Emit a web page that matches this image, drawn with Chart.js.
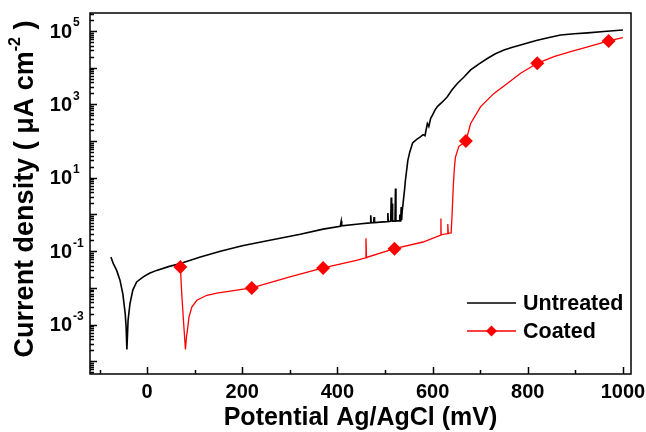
<!DOCTYPE html>
<html>
<head>
<meta charset="utf-8">
<script src="https://cdn.jsdelivr.net/npm/chart.js@4.4.1/dist/chart.umd.min.js"></script>
<style>
  html, body { margin: 0; padding: 0; background: #fff; }
  #wrap { width: 646px; height: 432px; }
</style>
</head>
<body>
<div id="wrap"><canvas id="polChart" width="646" height="432"></canvas></div>
<script>
// potential (mV) and current density (uA cm-2)
const untreatedX = [-76, -71, -64, -57, -51, -46, -44, -42.5, -41, -40, -36, -30, -22, -8, 5, 20, 45, 70, 112, 154, 200, 250, 322, 370,
  406, 408, 409, 450, 469, 470, 471, 476, 477, 478, 490, 505, 506, 507, 512, 513, 514, 515, 516, 521, 522, 523, 530, 531, 532, 533, 534, 535,
  536, 538, 541, 543, 548, 552, 558, 566, 575, 580, 584, 589, 592, 596, 600, 605, 610, 620, 631, 641, 652, 666, 680, 697, 715, 732, 750, 768,
  785, 803, 820, 845, 869, 898, 926, 960, 1000];
const untreatedY = [0.069, 0.046, 0.030, 0.0162, 0.0069, 0.002, 8.0e-4, 2.1e-4, 6.0e-4, 1.3e-3, 3.7e-3, 8.7e-3, 0.0145, 0.020, 0.025,
  0.030, 0.038, 0.046, 0.069, 0.10, 0.14, 0.19, 0.29, 0.40,
  0.48, 0.66, 0.49, 0.56, 0.59, 0.95, 0.59, 0.60, 0.85, 0.60, 0.62, 0.64, 1.1, 0.64, 0.65, 2.9, 0.66, 2.0, 0.66, 0.66, 5.1, 0.67, 0.67, 1.0,
  0.67, 0.68, 1.6, 0.70, 1.2, 2.0, 4.6, 8.7, 30, 50, 89, 110, 132, 150, 140, 302, 250, 420, 520, 700, 871, 1150, 1620, 2500, 3720, 5600,
  8710, 12600, 17800, 24000, 30200, 36000, 41700, 49000, 56200, 67000, 77600, 84000, 89100, 97000, 107000];

const coatedX = [70, 73, 77, 80.6, 83, 84.8, 88, 94, 104.6, 125.7, 146.7, 220, 300, 370, 440, 459, 460, 461, 462, 520, 580, 617, 617.5, 618,
  631, 632, 633, 634, 639, 641, 643.6, 646, 648, 655, 670, 680, 701, 729, 757, 785, 820, 855, 890, 926, 970, 1000];
const coatedY = [0.037, 0.0063, 0.001, 2.1e-4, 5.0e-4, 7.1e-4, 1.6e-3, 3.0e-3, 4.6e-3, 6.3e-3, 7.2e-3, 0.010, 0.020, 0.035, 0.056, 0.066,
  0.224, 0.067, 0.068, 0.117, 0.178, 0.275, 0.78, 0.28, 0.30, 0.55, 0.30, 0.31, 0.316, 1.0, 6.3, 20, 36, 71, 100, 302, 871, 2000, 3720,
  7080, 13200, 20000, 27500, 37200, 53700, 66100];
const coatedMarkers = [70, 220, 370, 520, 670, 820, 970];

const xTicks = [0, 200, 400, 600, 800, 1000];
const xMinorTicks = [-100, 100, 300, 500, 700, 900];
const yTickExps = [-3, -1, 1, 3, 5];

const toPoints = (xs, ys) => xs.map((v, i) => ({ x: v, y: ys[i] }));
const FONT = 'Arial, "Liberation Sans", sans-serif';

const decor = {
  id: "decor",
  afterDraw(chart) {
    const { ctx, chartArea: a, scales: { x, y } } = chart;
    ctx.save();
    ctx.strokeStyle = "#000";
    ctx.fillStyle = "#000";
    ctx.lineWidth = 1.5;
    ctx.strokeRect(a.left, a.top, a.right - a.left, a.bottom - a.top);

    // inward ticks
    ctx.beginPath();
    xTicks.concat(xMinorTicks).forEach(v => {
      const px = Math.round(x.getPixelForValue(v)) + 0.5;
      const len = xTicks.includes(v) ? 7 : 4;
      ctx.moveTo(px, a.bottom);
      ctx.lineTo(px, a.bottom - len);
    });
    for (let e = -5; e <= 5; e++) {
      for (let m = 1; m <= 9; m++) {
        const v = m * Math.pow(10, e);
        if (v < y.min || v > y.max) continue;
        const py = Math.round(y.getPixelForValue(v)) + 0.5;
        ctx.moveTo(a.left, py);
        ctx.lineTo(a.left + (m === 1 ? 7 : 4), py);
      }
    }
    ctx.stroke();

    // x tick labels
    ctx.font = "bold 20px " + FONT;
    ctx.textAlign = "center";
    ctx.textBaseline = "middle";
    xTicks.forEach(v => ctx.fillText(String(v), x.getPixelForValue(v), a.bottom + 18));

    // y tick labels 10^n
    yTickExps.forEach(e => {
      const py = y.getPixelForValue(Math.pow(10, e));
      ctx.font = "bold 20px " + FONT;
      ctx.textAlign = "right";
      ctx.textBaseline = "middle";
      ctx.fillText("10", 72, py + 1);
      ctx.font = "bold 12px " + FONT;
      ctx.textAlign = "left";
      ctx.fillText(e < 0 ? "-" + Math.abs(e) : String(e), 73, py - 8);
    });

    // axis titles
    ctx.font = "bold 25px " + FONT;
    ctx.textAlign = "center";
    ctx.textBaseline = "middle";
    ctx.fillText("Potential Ag/AgCl (mV)", (a.left + a.right) / 2, 418);

    ctx.save();
    ctx.translate(26, 189);
    ctx.rotate(-Math.PI / 2);
    const partA = "Current density ( \u03BCA cm";
    const partB = "-2";
    const partC = " )";
    ctx.font = "bold 27px " + FONT;
    const wA = ctx.measureText(partA).width;
    const wC = ctx.measureText(partC).width;
    ctx.font = "bold 16px " + FONT;
    const wB = ctx.measureText(partB).width;
    let cx = -(wA + wB + wC) / 2;
    ctx.textAlign = "left";
    ctx.font = "bold 27px " + FONT;
    ctx.fillText(partA, cx, 0);
    cx += wA;
    ctx.font = "bold 16px " + FONT;
    ctx.fillText(partB, cx, -10);
    cx += wB;
    ctx.font = "bold 27px " + FONT;
    ctx.fillText(partC, cx, 0);
    ctx.restore();

    // legend
    const items = [
      { label: "Untreated", color: "#000", y: 303, marker: false },
      { label: "Coated", color: "#ff0000", y: 331, marker: true }
    ];
    items.forEach(it => {
      ctx.strokeStyle = it.color;
      ctx.lineWidth = 1.5;
      ctx.beginPath();
      ctx.moveTo(467, it.y);
      ctx.lineTo(516, it.y);
      ctx.stroke();
      if (it.marker) {
        ctx.fillStyle = it.color;
        ctx.beginPath();
        ctx.moveTo(491.5, it.y - 5.5);
        ctx.lineTo(497, it.y);
        ctx.lineTo(491.5, it.y + 5.5);
        ctx.lineTo(486, it.y);
        ctx.closePath();
        ctx.fill();
      }
      ctx.fillStyle = "#000";
      ctx.font = "bold 21.5px " + FONT;
      ctx.textAlign = "left";
      ctx.textBaseline = "middle";
      ctx.fillText(it.label, 523, it.y + 1);
    });
    ctx.restore();
  }
};

new Chart(document.getElementById("polChart"), {
  type: "line",
  data: {
    datasets: [
      {
        label: "Coated",
        data: toPoints(coatedX, coatedY),
        borderColor: "#ff0000",
        backgroundColor: "#ff0000",
        borderWidth: 1.3,
        tension: 0,
        order: 0,
        pointStyle: "rectRot",
        pointRadius: ctx => coatedMarkers.includes(ctx.raw && ctx.raw.x) ? 7 : 0,
        pointBorderWidth: 0
      },
      {
        label: "Untreated",
        data: toPoints(untreatedX, untreatedY),
        borderColor: "#000",
        borderWidth: 1.6,
        tension: 0,
        order: 1,
        pointRadius: 0
      }
    ]
  },
  options: {
    responsive: false,
    animation: false,
    devicePixelRatio: 1,
    layout: { padding: { left: 90, right: 15, top: 13, bottom: 58 } },
    plugins: { legend: { display: false }, tooltip: { enabled: false } },
    scales: {
      x: { type: "linear", min: -120, max: 1017, display: false },
      y: { type: "logarithmic", min: 4.5e-5, max: 3.1e5, display: false }
    }
  },
  plugins: [decor]
});
</script>
</body>
</html>
